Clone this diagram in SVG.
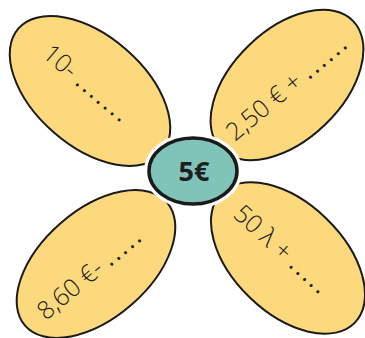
<svg xmlns="http://www.w3.org/2000/svg" width="365" height="338" viewBox="0 0 365 338">
<style>
.petal{fill:#FDD97E;stroke:#1a1a1a;stroke-width:2}
.lbl{font-family:"Open Sans","Noto Sans",sans-serif;font-size:25px;fill:#1e1e1e;font-weight:300}
.dots{letter-spacing:2.5px;font-weight:400}
</style>
<rect width="365" height="338" fill="#fff"/>
<g id="petal-tl">
<ellipse class="petal" cx="90" cy="91" rx="95" ry="55" transform="rotate(41 90 91)"/>
<text class="lbl" transform="translate(41 56) rotate(40)">10- <tspan class="dots">.......</tspan></text>
</g>
<g id="petal-tr">
<ellipse class="petal" cx="287" cy="85" rx="92" ry="55" transform="rotate(-44 287 85)"/>
<text class="lbl" transform="translate(235 142) rotate(-40)">2,50 € + <tspan class="dots">......</tspan></text>
</g>
<g id="petal-bl">
<ellipse class="petal" cx="96" cy="264" rx="94" ry="54" transform="rotate(-41 96 264)"/>
<text class="lbl" transform="translate(46 321) rotate(-40)">8,60 €- <tspan class="dots">.....</tspan></text>
</g>
<g id="petal-br">
<ellipse class="petal" cx="288" cy="258" rx="93" ry="55" transform="rotate(44 288 258)"/>
<text class="lbl" transform="translate(232 216) rotate(42)">50 λ + <tspan class="dots">.....</tspan></text>
</g>
<g id="center">
<ellipse cx="193" cy="171" rx="44" ry="33" fill="none" stroke="#fff" stroke-width="10"/>
<ellipse cx="193" cy="171" rx="44" ry="33" fill="#80C4B9" stroke="#1a1a1a" stroke-width="3.5"/>
<text x="194" y="181" text-anchor="middle" font-family="'Open Sans','Noto Sans',sans-serif" font-size="27" font-weight="700" fill="#1e1e1e">5€</text>
</g>
</svg>
